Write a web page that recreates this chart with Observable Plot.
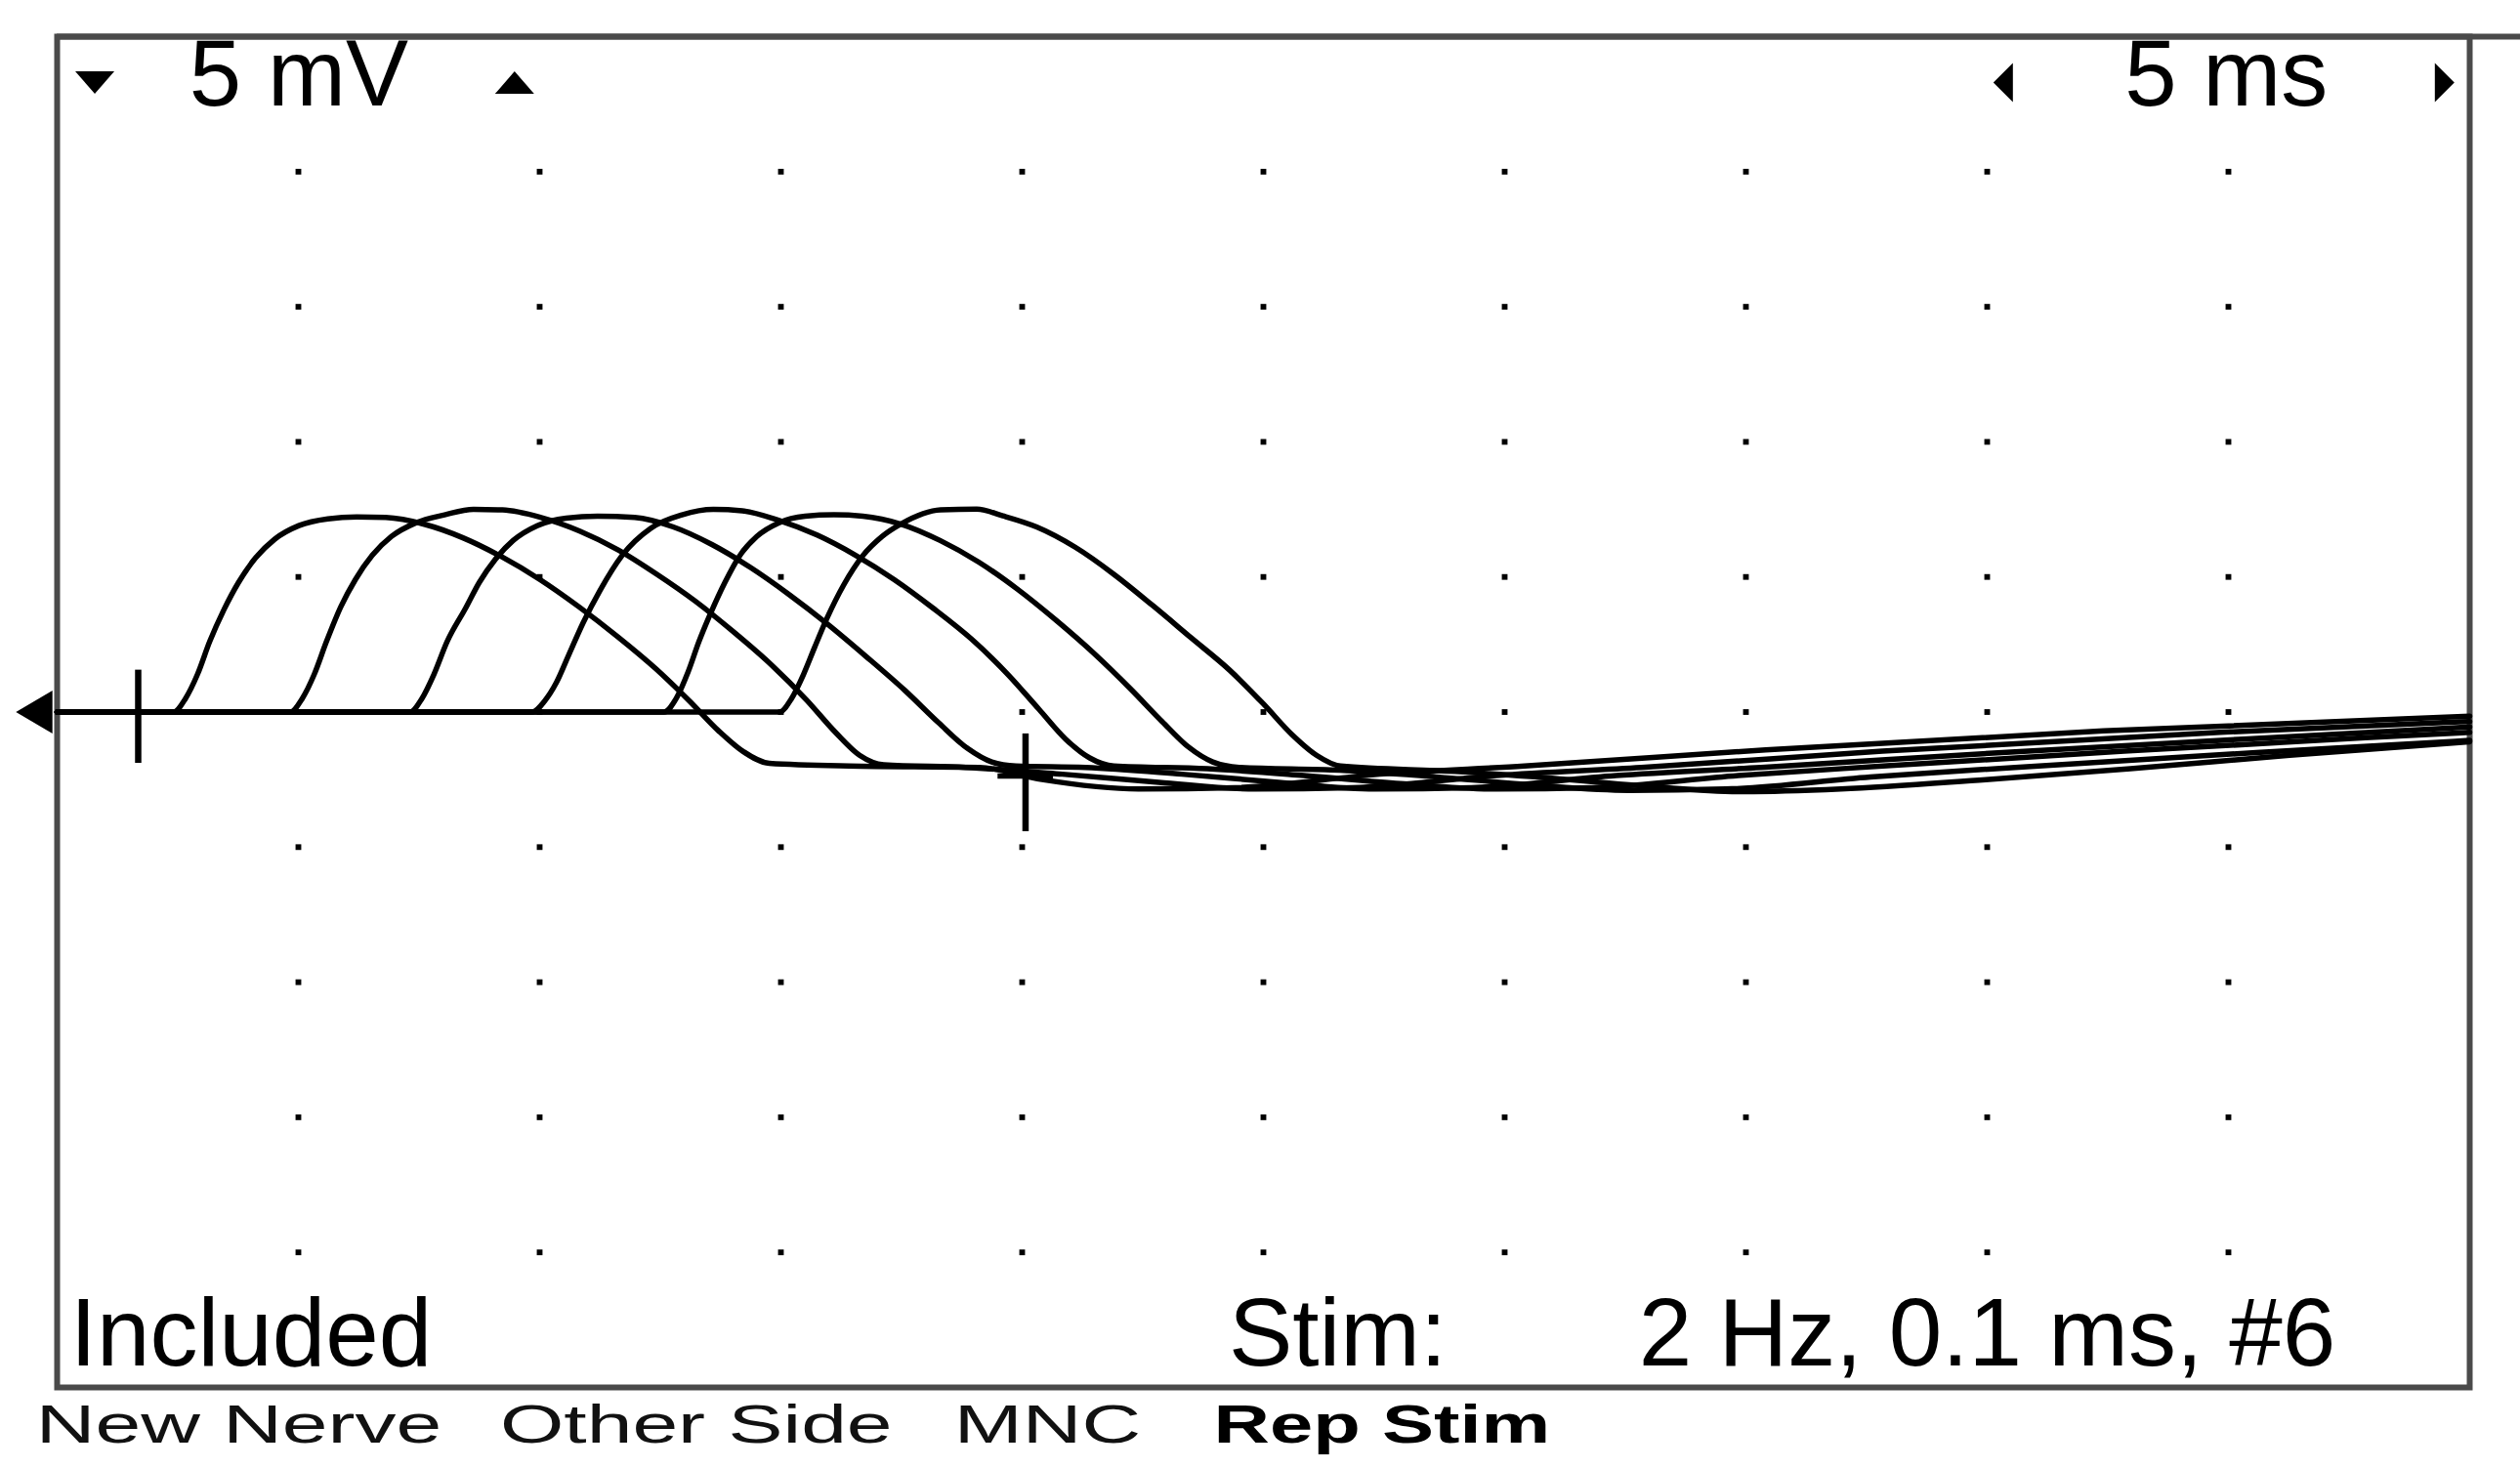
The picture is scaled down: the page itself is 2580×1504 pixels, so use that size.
<!DOCTYPE html>
<html>
<head>
<meta charset="utf-8">
<script src="https://cdn.jsdelivr.net/npm/d3@7"></script>
<script src="https://cdn.jsdelivr.net/npm/@observablehq/plot@0.6"></script>
<style>
  html, body { margin: 0; padding: 0; background: #ffffff; }
  #chart svg { display: block; }
</style>
</head>
<body>
<div id="chart"></div>
<script>
// ---- Traces: time (ms), amplitude (mV) ----
const trace1 = [[0,0],[2.41,0],[2.66,0.5],[2.91,1.4],[3.16,2.6],[3.46,3.8],[3.76,4.8],[4.11,5.7],[4.51,6.4],[5.01,6.9],[5.61,7.15],[6.21,7.22],[6.81,7.2],[7.61,6.95],[8.41,6.45],[9.21,5.75],[10.01,4.9],[10.81,3.9],[11.61,2.8],[12.41,1.6],[13.11,0.4],[13.71,-0.7],[14.21,-1.45],[14.76,-1.9],[16.41,-2.0],[19.11,-2.05],[20.41,-2.5],[22.41,-2.85],[24.41,-2.8],[27.41,-2.3],[30.41,-2.0],[35.41,-1.4],[42.41,-0.7],[50,-0.15]];
const trace2 = [[0,0],[4.83,0],[5.08,0.5],[5.33,1.4],[5.58,2.6],[5.88,3.9],[6.18,4.9],[6.53,5.8],[6.93,6.5],[7.43,7.0],[8.03,7.3],[8.63,7.5],[9.23,7.48],[10.03,7.2],[10.83,6.7],[11.63,6.0],[12.43,5.1],[13.23,4.1],[14.03,2.95],[14.83,1.7],[15.53,0.45],[16.13,-0.75],[16.63,-1.6],[17.13,-1.95],[18.83,-2.05],[20.83,-2.3],[22.83,-2.6],[24.83,-2.85],[26.83,-2.8],[29.83,-2.35],[32.83,-2.05],[37.83,-1.45],[44.83,-0.75],[50,-0.35]];
const trace3 = [[0,0],[7.31,0],[7.56,0.5],[7.81,1.4],[8.08,2.6],[8.47,3.86],[8.75,4.8],[9.08,5.65],[9.45,6.35],[9.95,6.9],[10.55,7.18],[11.2,7.25],[11.97,7.2],[12.77,6.85],[13.57,6.2],[14.37,5.35],[15.17,4.35],[15.97,3.25],[16.77,2.05],[17.57,0.8],[18.27,-0.4],[18.87,-1.35],[19.37,-1.85],[19.87,-2.0],[21.31,-2.05],[23.31,-2.3],[25.31,-2.6],[27.31,-2.85],[29.31,-2.8],[32.31,-2.35],[35.31,-2.05],[40.31,-1.5],[45.31,-1.0],[50,-0.55]];
const trace4 = [[0,0],[9.84,0],[10.1,0.4],[10.35,1.1],[10.6,2.1],[10.9,3.3],[11.25,4.5],[11.71,5.8],[12.3,6.8],[12.95,7.3],[13.6,7.5],[14.2,7.45],[14.95,7.1],[15.75,6.55],[16.55,5.8],[17.35,4.9],[18.15,3.85],[18.95,2.7],[19.7,1.4],[20.35,0.1],[20.9,-1.0],[21.4,-1.7],[21.9,-2.0],[23.84,-2.1],[25.84,-2.35],[27.84,-2.65],[29.84,-2.85],[31.84,-2.8],[34.84,-2.35],[37.84,-2.0],[42.84,-1.45],[47.84,-0.95],[50,-0.75]];
const trace5 = [[0,0],[12.58,0],[12.83,0.5],[13.08,1.5],[13.3,2.6],[13.53,3.6],[13.84,4.8],[14.14,5.77],[14.5,6.5],[14.95,7.0],[15.5,7.25],[16.1,7.3],[16.7,7.25],[17.5,6.95],[18.3,6.35],[19.1,5.55],[19.9,4.55],[20.7,3.4],[21.5,2.15],[22.25,0.85],[22.9,-0.35],[23.45,-1.3],[23.95,-1.85],[24.5,-2.05],[26.58,-2.15],[28.58,-2.4],[30.58,-2.7],[32.58,-2.9],[34.58,-2.85],[37.58,-2.4],[40.58,-2.05],[45.58,-1.5],[50,-1.05]];
const trace6 = [[0,0],[14.97,0],[15.22,0.5],[15.47,1.4],[15.7,2.4],[15.96,3.49],[16.3,4.7],[16.69,5.77],[17.1,6.5],[17.5,6.97],[18.31,7.48],[19.06,7.51],[19.6,7.26],[20.3,6.85],[21.1,6.1],[21.9,5.1],[22.7,3.95],[23.5,2.75],[24.3,1.55],[25.0,0.3],[25.6,-0.85],[26.1,-1.6],[26.6,-2.0],[28.97,-2.2],[30.97,-2.45],[32.97,-2.75],[34.97,-2.95],[36.97,-2.85],[39.97,-2.5],[42.97,-2.1],[46.27,-1.6],[50,-1.1]];
const traces = [trace1, trace2, trace3, trace4, trace5, trace6];

// ---- Screen grid (5 ms / div, 5 mV / div) ----
const gridTimes = [5, 10, 15, 20, 25, 30, 35, 40, 45];
const gridVolts = [20, 15, 10, 5, 0, -5, -10, -15, -20];
const screenTime = [0, 50];
const screenVolt = [-25, 25];

// ---- Cursors (ms, mV) ----
const onsetCursor = [{t: 1.68, top: 1.55, bottom: -1.9}];
const peakCursorV = [{t: 20.07, top: -0.81, bottom: -4.43}];
const peakCursorH = [{mv: -2.37, left: 19.5, right: 20.65}];
const baselineArrow = [{t: 0, mv: 0}];

// ---- Labels ----
const headerText = [{label: "5 mV", t: 2.74, mv: 23.55}, {label: "5 ms", t: 42.85, mv: 23.55}];
const gainDown = [{t: 0.78, mv: 23.3}];
const gainUp = [{t: 9.48, mv: 23.3}];
const sweepLeft = [{t: 40.33, mv: 23.3}];
const sweepRight = [{t: 49.48, mv: 23.3}];
const statusText = [{label: "Included", t: 0.27, mv: -23.05}, {label: "Stim:", t: 24.28, mv: -23.05}, {label: "2 Hz, 0.1 ms, #6", t: 32.78, mv: -23.05}];
const softKeys = [{label: "New Nerve", t: -0.44, mv: -26.41}, {label: "Other Side", t: 9.18, mv: -26.41}, {label: "MNC", t: 18.59, mv: -26.41}];
const softKeysBold = [{label: "Rep Stim", t: 23.97, mv: -26.41}];

// ---- Tables for Plot ----
const lineData = traces.flatMap((tr, i) => tr.map(([t, mv]) => ({trace: i + 1, t, mv})));
const gridDots = gridTimes.flatMap(t => gridVolts.map(mv => ({t, mv})));
const topEdge = [{mv: screenVolt[1], left: screenTime[0], right: 53}];

// custom flat triangles
const rad = s => Math.sqrt(s / Math.PI);
const triDown = {draw(c, s) { const r = rad(s); c.moveTo(-r, -r * 0.58); c.lineTo(r, -r * 0.58); c.lineTo(0, r * 0.58); c.closePath(); }};
const triUp = {draw(c, s) { const r = rad(s); c.moveTo(-r, r * 0.58); c.lineTo(r, r * 0.58); c.lineTo(0, -r * 0.58); c.closePath(); }};
const triLeft = {draw(c, s) { const r = rad(s); c.moveTo(r * 0.5, -r); c.lineTo(r * 0.5, r); c.lineTo(-r * 0.5, 0); c.closePath(); }};
const triRight = {draw(c, s) { const r = rad(s); c.moveTo(-r * 0.5, -r); c.lineTo(-r * 0.5, r); c.lineTo(r * 0.5, 0); c.closePath(); }};
const arrowLeft = {draw(c, s) { const r = rad(s); c.moveTo(r * 0.6, -r); c.lineTo(r * 0.6, r); c.lineTo(-r * 1.1, 0); c.closePath(); }};

const font = "'Liberation Sans', Arial, Helvetica, sans-serif";
const ink = "#000";
const frameInk = "#4a4a4a";

const chart = Plot.plot({
  width: 2580,
  height: 1504,
  marginLeft: 58,
  marginRight: 52,
  marginTop: 37,
  marginBottom: 84,
  x: {domain: screenTime, axis: null},
  y: {domain: screenVolt, axis: null},
  style: {background: "#fff", overflow: "visible"},
  marks: [
    Plot.dot(gridDots, {x: "t", y: "mv", symbol: "square", r: 3.3, fill: ink, stroke: null}),
    Plot.frame({stroke: frameInk, strokeWidth: 6}),
    Plot.ruleY(topEdge, {y: "mv", x1: "left", x2: "right", stroke: frameInk, strokeWidth: 6}),
    Plot.line(lineData, {x: "t", y: "mv", z: "trace", stroke: ink, strokeWidth: 5.5, curve: "monotone-x"}),
    Plot.ruleX(onsetCursor, {x: "t", y1: "top", y2: "bottom", stroke: ink, strokeWidth: 6.5}),
    Plot.ruleX(peakCursorV, {x: "t", y1: "top", y2: "bottom", stroke: ink, strokeWidth: 6.5}),
    Plot.ruleY(peakCursorH, {y: "mv", x1: "left", x2: "right", stroke: ink, strokeWidth: 5.5}),
    Plot.dot(baselineArrow, {x: "t", y: "mv", symbol: arrowLeft, r: 22, fill: ink, stroke: null, dx: -18}),
    Plot.dot(gainDown, {x: "t", y: "mv", symbol: triDown, r: 20, fill: ink, stroke: null}),
    Plot.dot(gainUp, {x: "t", y: "mv", symbol: triUp, r: 20, fill: ink, stroke: null}),
    Plot.dot(sweepLeft, {x: "t", y: "mv", symbol: triLeft, r: 20, fill: ink, stroke: null}),
    Plot.dot(sweepRight, {x: "t", y: "mv", symbol: triRight, r: 20, fill: ink, stroke: null}),
    Plot.text(headerText, {x: "t", y: "mv", text: "label", textAnchor: "start", lineAnchor: "middle", fontSize: 96, fontFamily: font, fill: ink}),
    Plot.text(statusText, {x: "t", y: "mv", text: "label", textAnchor: "start", lineAnchor: "middle", fontSize: 98, fontFamily: font, fill: ink}),
    Plot.text(softKeys, {x: "t", y: "mv", text: "label", textAnchor: "start", lineAnchor: "middle", fontSize: 56, fontFamily: font, fill: "#111"}),
    Plot.text(softKeysBold, {x: "t", y: "mv", text: "label", textAnchor: "start", lineAnchor: "middle", fontSize: 56, fontWeight: "bold", fontFamily: font, fill: "#000"})
  ]
});

document.getElementById("chart").appendChild(chart);

// widen the soft-key captions like the instrument's wide screen font
const stretchFactor = new Map([
  ...softKeys.map(d => [d.label, 1.5]),
  ...softKeysBold.map(d => [d.label, 1.42])
]);
chart.querySelectorAll("text").forEach(el => {
  const f = stretchFactor.get(el.textContent);
  if (!f) return;
  const len = el.getComputedTextLength();
  if (len > 0) {
    el.setAttribute("textLength", (len * f).toFixed(1));
    el.setAttribute("lengthAdjust", "spacingAndGlyphs");
  }
});
</script>
</body>
</html>
